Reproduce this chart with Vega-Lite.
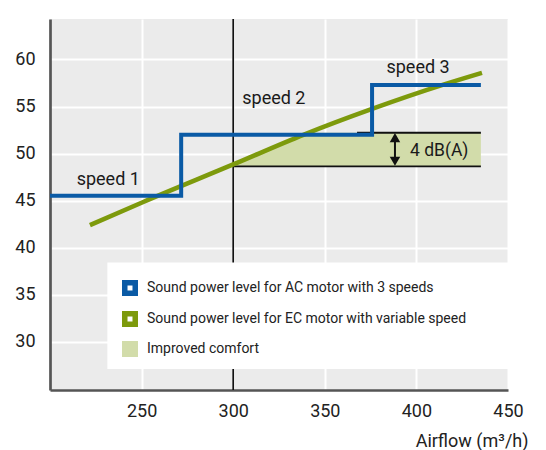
{
  "$schema": "https://vega.github.io/schema/vega-lite/v6.json",
  "width": 458,
  "height": 371,
  "autosize": "none",
  "padding": {"left": 50, "top": 19, "right": 38, "bottom": 60},
  "background": "#ffffff",
  "config": {
    "view": {"fill": "#ebebeb", "stroke": null},
    "font": "Roboto",
    "legend": {
      "orient": "none", "legendX": 72,
      "title": null, "padding": 0,
      "symbolType": "square",
      "labelFont": "Roboto", "labelFontSize": 14, "labelColor": "#222222", "labelOffset": 9, "labelLimit": 400,
      "rowPadding": 0
    }
  },
  "datasets": {
    "ac": [
      {"airflow": 200, "level": 45.54, "series": "Sound power level for AC motor with 3 speeds"},
      {"airflow": 271.6, "level": 52.0, "series": "Sound power level for AC motor with 3 speeds"},
      {"airflow": 375.8, "level": 57.3, "series": "Sound power level for AC motor with 3 speeds"},
      {"airflow": 435.2, "level": 57.3, "series": "Sound power level for AC motor with 3 speeds"}
    ],
    "ec": [
      {"airflow": 221.8, "level": 42.4, "series": "Sound power level for EC motor with variable speed"},
      {"airflow": 250.6, "level": 44.84, "series": "Sound power level for EC motor with variable speed"},
      {"airflow": 300, "level": 48.85, "series": "Sound power level for EC motor with variable speed"},
      {"airflow": 338.3, "level": 52.0, "series": "Sound power level for EC motor with variable speed"},
      {"airflow": 375.8, "level": 54.75, "series": "Sound power level for EC motor with variable speed"},
      {"airflow": 414.3, "level": 57.3, "series": "Sound power level for EC motor with variable speed"},
      {"airflow": 435.8, "level": 58.58, "series": "Sound power level for EC motor with variable speed"}
    ],
    "comfort": [
      {"airflow": 300, "lo": 48.65, "hi": 48.85, "series": "Improved comfort"},
      {"airflow": 338.3, "lo": 48.65, "hi": 52.0, "series": "Improved comfort"},
      {"airflow": 341, "lo": 48.65, "hi": 52.22, "series": "Improved comfort"},
      {"airflow": 435.2, "lo": 48.65, "hi": 52.22, "series": "Improved comfort"}
    ],
    "bounds": [
      {"from": 300, "to": 435.2, "level": 48.65},
      {"from": 367.6, "to": 435.2, "level": 52.22}
    ],
    "box": [
      {"from": 231.3, "to": 450, "lo": 27.14, "hi": 38.44}
    ],
    "labels": [
      {"airflow": 231.8, "level": 46.67, "text": "speed 1"},
      {"airflow": 322.2, "level": 55.26, "text": "speed 2"},
      {"airflow": 400.9, "level": 58.58, "text": "speed 3"}
    ],
    "arrow": [
      {"airflow": 388.3, "lo": 49.0, "hi": 51.9, "up": 51.7, "down": 49.2}
    ]
  },
  "layer": [
    {
      "data": {"values": [{"airflow": 300}]},
      "mark": {"type": "rule", "color": "#111111", "strokeWidth": 1.7},
      "encoding": {
        "x": {
          "field": "airflow", "type": "quantitative",
          "scale": {"domain": [200, 450], "nice": false, "zero": false},
          "axis": {
            "values": [250, 300, 350, 400, 450],
            "grid": true, "gridColor": "#ffffff", "gridWidth": 2,
            "ticks": false, "domainColor": "#555555", "domainWidth": 2.7,
            "labelFont": "Roboto", "labelFontSize": 18, "labelColor": "#222222", "labelPadding": 12, "labelFlush": false,
            "title": "Airflow (m³/h)", "titleFont": "Roboto", "titleFontSize": 18, "titleFontWeight": "normal", "titleColor": "#222222",
            "titleAlign": "right", "titleAnchor": "end", "titleX": 478, "titleY": 56, "titleBaseline": "alphabetic"
          }
        }
      }
    },
    {
      "data": {"name": "box"},
      "mark": {"type": "rect", "color": "#ffffff"},
      "encoding": {
        "x": {"field": "from", "type": "quantitative"},
        "x2": {"field": "to"},
        "y": {
          "field": "lo", "type": "quantitative",
          "scale": {"domain": [24.9, 64.3], "nice": false, "zero": false},
          "axis": {
            "values": [30, 35, 40, 45, 50, 55, 60],
            "grid": true, "gridColor": "#ffffff", "gridWidth": 2,
            "ticks": false, "domainColor": "#555555", "domainWidth": 2.7,
            "labelFont": "Roboto", "labelFontSize": 18, "labelColor": "#222222", "labelPadding": 15,
            "title": null
          }
        },
        "y2": {"field": "hi"}
      }
    },
    {
      "data": {"name": "comfort"},
      "mark": {"type": "area", "opacity": 1},
      "encoding": {
        "x": {"field": "airflow", "type": "quantitative"},
        "y": {"field": "lo", "type": "quantitative"},
        "y2": {"field": "hi"},
        "fill": {
          "field": "series", "type": "nominal",
          "scale": {"domain": ["Improved comfort"], "range": ["#d2dcaa"]},
          "legend": {"legendY": 322, "symbolSize": 256, "symbolStrokeWidth": 0}
        }
      }
    },
    {
      "data": {"name": "bounds"},
      "mark": {"type": "rule", "color": "#111111", "strokeWidth": 1.8},
      "encoding": {
        "x": {"field": "from", "type": "quantitative"},
        "x2": {"field": "to"},
        "y": {"field": "level", "type": "quantitative"}
      }
    },
    {
      "data": {"name": "ec"},
      "mark": {"type": "line", "strokeWidth": 4.6, "interpolate": "monotone", "strokeCap": "butt"},
      "encoding": {
        "x": {"field": "airflow", "type": "quantitative"},
        "y": {"field": "level", "type": "quantitative"},
        "stroke": {
          "field": "series", "type": "nominal",
          "scale": {
            "domain": ["Sound power level for AC motor with 3 speeds", "Sound power level for EC motor with variable speed"],
            "range": ["#0a5aa5", "#7d9a0c"]
          },
          "legend": {
            "legendY": 261, "symbolSize": 110, "symbolStrokeWidth": 5.5, "rowPadding": -3,
            "encode": {
              "symbols": {
                "update": {
                  "fill": {"value": "#ffffff"},
                  "fillOpacity": {"value": 1},
                  "strokeWidth": {"value": 5.5},
                  "shape": {"value": "square"}
                }
              }
            }
          }
        }
      }
    },
    {
      "data": {"name": "ac"},
      "mark": {"type": "line", "strokeWidth": 4, "interpolate": "step-after", "strokeCap": "butt", "strokeJoin": "miter"},
      "encoding": {
        "x": {"field": "airflow", "type": "quantitative"},
        "y": {"field": "level", "type": "quantitative"},
        "stroke": {
          "field": "series", "type": "nominal",
          "legend": {
            "legendY": 261, "symbolSize": 110, "symbolStrokeWidth": 5.5, "rowPadding": -3,
            "encode": {
              "symbols": {
                "update": {
                  "fill": {"value": "#ffffff"},
                  "fillOpacity": {"value": 1},
                  "strokeWidth": {"value": 5.5},
                  "shape": {"value": "square"}
                }
              }
            }
          }
        }
      }
    },
    {
      "data": {"name": "arrow"},
      "mark": {"type": "rule", "color": "#111111", "strokeWidth": 2},
      "encoding": {
        "x": {"field": "airflow", "type": "quantitative"},
        "y": {"field": "lo", "type": "quantitative"},
        "y2": {"field": "hi"}
      }
    },
    {
      "data": {"name": "arrow"},
      "mark": {"type": "point", "shape": "triangle-up", "filled": true, "color": "#111111", "size": 110, "opacity": 1},
      "encoding": {
        "x": {"field": "airflow", "type": "quantitative"},
        "y": {"field": "up", "type": "quantitative"}
      }
    },
    {
      "data": {"name": "arrow"},
      "mark": {"type": "point", "shape": "triangle-down", "filled": true, "color": "#111111", "size": 110, "opacity": 1},
      "encoding": {
        "x": {"field": "airflow", "type": "quantitative"},
        "y": {"field": "down", "type": "quantitative"}
      }
    },
    {
      "data": {"name": "labels"},
      "mark": {"type": "text", "font": "Roboto", "fontSize": 18, "color": "#1a1a1a", "align": "center", "baseline": "alphabetic"},
      "encoding": {
        "x": {"field": "airflow", "type": "quantitative"},
        "y": {"field": "level", "type": "quantitative"},
        "text": {"field": "text"}
      }
    },
    {
      "data": {"values": [{"airflow": 396.5, "level": 49.75, "text": "4 dB(A)"}]},
      "mark": {"type": "text", "font": "Roboto", "fontSize": 17.5, "color": "#1a1a1a", "align": "left", "baseline": "alphabetic"},
      "encoding": {
        "x": {"field": "airflow", "type": "quantitative"},
        "y": {"field": "level", "type": "quantitative"},
        "text": {"field": "text"}
      }
    }
  ]
}
